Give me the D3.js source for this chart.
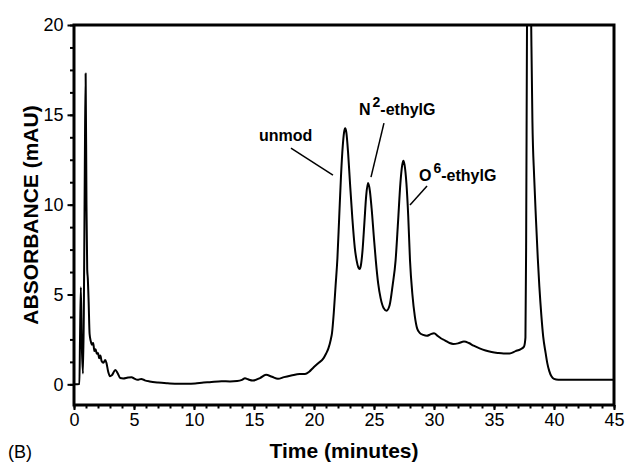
<!DOCTYPE html>
<html>
<head>
<meta charset="utf-8">
<script src="https://cdn.jsdelivr.net/npm/d3@7"></script>
<style>
  html, body { margin: 0; padding: 0; background: #fff; }
  svg { display: block; }
  text { font-family: "Liberation Sans", Arial, Helvetica, sans-serif; fill: #000; }
</style>
</head>
<body>
<svg id="chart" width="625" height="463"></svg>
<script>
// ---- data (time in minutes, absorbance in mAU) ----
const times = [
  0, 0.45, 0.5, 0.57, 0.65, 0.75, 0.82, 0.9, 0.97, 1.04, 1.1, 1.15, 1.22, 1.3, 1.4, 1.5, 1.6, 1.7, 1.8, 1.9,
  2.0, 2.1, 2.2, 2.3, 2.45, 2.6, 2.7, 2.85, 3.0, 3.15, 3.45, 3.65, 3.85, 4.1, 4.5, 4.8, 5.0, 5.3, 5.6, 5.9,
  6.3, 7.0, 7.8, 8.7, 9.5, 10.1, 10.8, 11.3, 12.3, 13.0, 13.6, 14.0, 14.25, 14.5, 14.9, 15.5, 16.0, 16.5, 17.0, 17.5,
  18.1, 18.8, 19.25, 19.6, 19.9, 20.3, 20.8, 21.0, 21.2, 21.4, 21.5, 21.65, 21.8, 21.95, 22.1, 22.25, 22.4, 22.5, 22.6, 22.7,
  22.85, 23.0, 23.2, 23.4, 23.55, 23.7, 23.8, 23.9, 24.05, 24.2, 24.35, 24.5, 24.65, 24.8, 25.0, 25.15, 25.35, 25.55, 25.8, 26.05,
  26.3, 26.55, 26.8, 27.0, 27.2, 27.35, 27.45, 27.55, 27.7, 27.85, 28.0, 28.2, 28.4, 28.6, 28.83, 29.1, 29.4, 29.7, 30.0, 30.3,
  30.6, 30.9, 31.3, 31.6, 32.0, 32.5, 32.9, 33.3, 33.8, 34.3, 34.8, 35.3, 35.8, 36.3, 36.8, 37.2, 37.5, 37.62, 37.68, 37.75,
  37.85, 38.0, 38.1, 38.2, 38.35, 38.5, 38.65, 38.78, 38.95, 39.1, 39.3, 39.44, 39.6, 39.8, 40.0, 40.36, 45
];
const absorbance = [
  0, 0.02, 2.5, 5.4, 2.2, 0.6, 4, 12, 17.3, 10, 6.4, 5.9, 4.6, 2.8, 2.4, 2.2, 2.3, 1.85, 1.95, 1.7,
  1.75, 1.45, 1.6, 1.3, 1.2, 1.35, 1.2, 0.7, 0.45, 0.5, 0.8, 0.6, 0.35, 0.33, 0.38, 0.4, 0.33, 0.25, 0.3, 0.22,
  0.16, 0.1, 0.06, 0.03, 0.03, 0.05, 0.1, 0.12, 0.17, 0.16, 0.18, 0.25, 0.34, 0.28, 0.21, 0.35, 0.53, 0.42, 0.31, 0.4,
  0.49, 0.58, 0.57, 0.7, 0.9, 1.15, 1.46, 1.7, 2.0, 2.5, 2.85, 4.0, 5.5, 7.0, 9.3, 11.6, 13.3, 14.0, 14.25, 14.0,
  12.8, 11.2, 9.2, 7.6, 6.9, 6.5, 6.42, 6.6, 7.5, 9.0, 10.5, 11.2, 10.8, 9.8, 8.1, 6.9, 5.6, 4.8, 4.25, 4.1,
  4.4, 5.5, 6.9, 9.0, 11.2, 12.2, 12.45, 12.2, 11.2, 9.4, 6.9, 5.0, 3.8, 3.1, 2.85, 2.75, 2.7, 2.78, 2.85, 2.7,
  2.55, 2.45, 2.3, 2.25, 2.28, 2.38, 2.3, 2.15, 2.0, 1.88, 1.8, 1.75, 1.72, 1.72, 1.85, 1.95, 2.1, 2.6, 8, 20,
  26, 26, 20, 14.7, 11.5, 9.15, 7.0, 5.44, 3.8, 2.66, 1.75, 1.18, 0.75, 0.43, 0.3, 0.25, 0.25
];
const xTickValues = [0, 5, 10, 15, 20, 25, 30, 35, 40, 45];
const yTickValues = [0, 5, 10, 15, 20];
const peakLabels = ["unmod", "N", "O"];
const peakSup = ["", "2", "6"];
const peakSuffix = ["", "-ethylG", "-ethylG"];
// label anchor (time, mAU) and leader line ends
const labelT = [15.42, 23.75, 28.75];
const labelV = [13.54, 14.99, 11.32];
const lineT1 = [18.08, 25.83, 29.42];
const lineV1 = [13.15, 14.54, 11.04];
const lineT2 = [21.58, 24.75, 28.0];
const lineV2 = [11.64, 11.53, 9.98];

// ---- layout ----
const svg = d3.select("#chart");
const L = 74, R = 614, T = 25, B = 405;
const x = d3.scaleLinear().domain([0, 45]).range([L, R]);
const y = d3.scaleLinear().domain([-1.15, 20]).range([B, T]);

svg.append("defs").append("clipPath").attr("id", "clip")
  .append("rect").attr("x", L).attr("y", T).attr("width", R - L).attr("height", B - T);

// trace
const pts = times.map((t, i) => [t, absorbance[i]]);
const line = d3.line().x(d => x(d[0])).y(d => y(d[1])).curve(d3.curveMonotoneX);
svg.append("path").datum(pts)
  .attr("clip-path", "url(#clip)")
  .attr("d", line).attr("fill", "none").attr("stroke", "#000")
  .attr("stroke-width", 2).attr("stroke-linejoin", "round");

// axes
const xMinor = d3.range(0, 46, 1);
const yMinor = d3.range(0, 20.01, 1.25);
const xAxisMinor = d3.axisBottom(x).tickValues(xMinor).tickSize(3.5).tickFormat("");
const xAxis = d3.axisBottom(x).tickValues(xTickValues).tickSize(5).tickPadding(3).tickFormat(d3.format("d"));
const yAxisMinor = d3.axisLeft(y).tickValues(yMinor).tickSize(4).tickFormat("");
const yAxis = d3.axisLeft(y).tickValues(yTickValues).tickSize(6.5).tickPadding(4).tickFormat(d3.format("d"));

function styleAxis(g) {
  g.select(".domain").remove();
  g.selectAll(".tick line").attr("stroke", "#000").attr("stroke-width", 2);
  g.selectAll(".tick text").attr("font-size", 18).attr("font-family", "Liberation Sans, Arial, sans-serif").attr("fill", "#000");
}
svg.append("g").attr("transform", `translate(0,${B})`).call(xAxisMinor).call(styleAxis);
svg.append("g").attr("transform", `translate(0,${B})`).call(xAxis).call(styleAxis);
svg.append("g").attr("transform", `translate(${L},0)`).call(yAxisMinor).call(styleAxis);
svg.append("g").attr("transform", `translate(${L},0)`).call(yAxis).call(styleAxis);

// frame
svg.append("rect").attr("x", L).attr("y", T).attr("width", R - L).attr("height", B - T)
  .attr("fill", "none").attr("stroke", "#000").attr("stroke-width", 3);

// axis titles
svg.append("text").attr("x", (L + R) / 2).attr("y", 458).attr("text-anchor", "middle")
  .attr("font-size", 21).attr("font-weight", "bold").text("Time (minutes)");
svg.append("text").attr("transform", `translate(38,${(T + B) / 2}) rotate(-90)`)
  .attr("text-anchor", "middle").attr("font-size", 21).attr("font-weight", "bold")
  .text("ABSORBANCE (mAU)");
svg.append("text").attr("x", 8).attr("y", 458).attr("font-size", 18).text("(B)");

// peak annotations
peakLabels.forEach((lab, i) => {
  const t = svg.append("text").attr("x", x(labelT[i])).attr("y", y(labelV[i]))
    .attr("font-size", 16).attr("font-weight", "bold");
  t.append("tspan").text(lab);
  if (peakSup[i]) {
    t.append("tspan").attr("dy", -8).attr("dx", 2).attr("font-size", 14).text(peakSup[i]);
    t.append("tspan").attr("dy", 8).text(peakSuffix[i]);
  }
  svg.append("line")
    .attr("x1", x(lineT1[i])).attr("y1", y(lineV1[i]))
    .attr("x2", x(lineT2[i])).attr("y2", y(lineV2[i]))
    .attr("stroke", "#000").attr("stroke-width", 1.5);
});
</script>
</body>
</html>
